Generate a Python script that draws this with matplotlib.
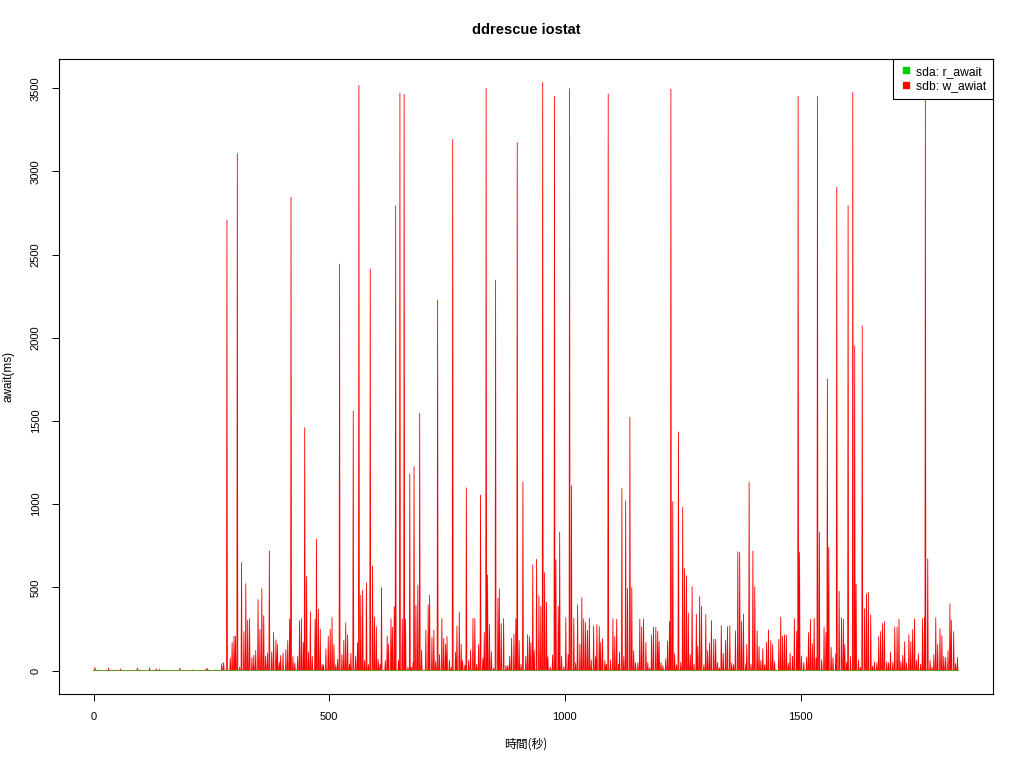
import numpy as np
import matplotlib.pyplot as plt
from matplotlib.lines import Line2D

# run length in seconds
n_seconds = 1836

# sdb: w_await spikes (second, ms); everything else sits at 0
sdb_time = [
    3, 32, 57, 93, 119, 133, 140, 183, 239, 242,
    272, 276, 283, 290, 294, 298, 301, 305, 310, 314, 319, 323, 327, 331, 336, 340, 344, 349, 353, 357,
    361, 365, 369, 373, 378, 382, 387, 390, 394, 397, 402, 408, 412, 416, 419,
    423, 427, 433, 437, 441, 445, 448, 452, 456, 460, 464, 470, 473, 477, 481, 485, 488, 493, 498, 502,
    506, 510, 514, 518, 522, 527, 531, 535, 539, 543, 546, 551, 556, 560, 563, 567, 571, 575, 579, 583,
    587, 592, 596, 600, 604, 608, 611, 619, 623, 626, 631, 634, 638, 641, 647, 650, 655, 659, 662, 667,
    671, 674, 678, 680, 684, 688, 692, 696, 705, 710, 713, 718, 722, 726, 730, 734, 739, 743, 747, 750,
    755, 759, 762, 768, 771, 776, 780, 783, 788, 791, 796, 800, 805, 809, 813, 817, 821, 826, 829, 833,
    836, 840, 844, 849, 853, 858, 861, 865, 870, 875, 879, 883, 887, 892, 896, 899, 903,
    907, 911, 917, 921, 925, 928, 932, 935, 940, 945, 949, 953, 957, 961, 964, 969, 974, 978, 981, 986,
    989, 993, 998, 1002, 1007, 1010, 1014, 1019, 1023, 1027, 1032, 1036, 1040, 1044, 1048, 1052, 1056, 1061, 1065, 1068,
    1073, 1076, 1080, 1085, 1088, 1092, 1097, 1102, 1106, 1110, 1114, 1116, 1121, 1125, 1129, 1133, 1138, 1142, 1146, 1150,
    1155, 1159, 1163, 1167, 1172, 1176, 1180, 1184, 1188, 1193, 1197, 1200, 1204, 1208, 1214, 1218, 1222, 1225, 1229, 1233,
    1237, 1241, 1246, 1250, 1254, 1258, 1262, 1266, 1270, 1274, 1279, 1282, 1286, 1290, 1295, 1299, 1303, 1307, 1311, 1316,
    1320, 1324, 1328, 1332, 1336, 1341, 1345, 1350, 1354, 1358, 1362, 1367, 1371,
    1375, 1379, 1384, 1386, 1391, 1395, 1399, 1403, 1408, 1412, 1416, 1420, 1424, 1428, 1432, 1437, 1441, 1445, 1454, 1458,
    1462, 1466, 1470, 1474, 1478, 1483, 1487, 1492, 1495, 1498, 1502, 1507, 1513, 1517, 1521, 1525, 1529, 1533, 1536, 1540,
    1545, 1550, 1554, 1557, 1560, 1565, 1569, 1575, 1577, 1582, 1587, 1591, 1594, 1598, 1601, 1606, 1611, 1615, 1618, 1623,
    1627, 1631, 1636, 1640, 1644, 1649, 1653, 1657, 1662, 1666, 1670, 1674, 1678, 1683, 1687, 1691, 1696, 1700, 1705, 1709,
    1713, 1717, 1721, 1725, 1730, 1734, 1738, 1742, 1746, 1750, 1755, 1759, 1763, 1765, 1770, 1775, 1779, 1783, 1787, 1791,
    1796, 1800, 1804, 1808, 1813, 1817, 1820, 1825, 1829, 1833,
]
sdb_wait = [
    18, 14, 10, 14, 16, 10, 8, 14, 10, 12,
    42, 48, 2707, 76, 168, 206, 206, 3107, 20, 650, 234, 522, 302, 312, 78, 92, 120, 426, 248, 492,
    330, 86, 106, 720, 112, 230, 184, 156, 50, 90, 104, 124, 180, 310, 2845,
    84, 46, 84, 300, 312, 168, 1460, 564, 112, 354, 84, 308, 790, 368, 248, 36, 34, 130, 206, 248,
    318, 156, 34, 68, 2443, 96, 182, 286, 216, 38, 104, 1560, 86, 168, 3517, 452, 482, 60, 528, 36,
    2413, 628, 320, 264, 66, 38, 498, 60, 206, 158, 312, 260, 384, 2793, 62, 3471, 310, 3463, 310, 20,
    1182, 20, 50, 1226, 392, 512, 1546, 122, 242, 394, 452, 200, 242, 54, 2227, 96, 312, 192, 158, 204,
    62, 20, 3193, 110, 268, 350, 158, 60, 32, 1098, 60, 122, 312, 312, 36, 156, 1054, 74, 230, 3499,
    574, 276, 114, 16, 2347, 434, 492, 282, 312, 30, 30, 86, 194, 220, 312, 3173, 180,
    38, 1134, 86, 216, 204, 168, 636, 120, 668, 450, 386, 3535, 588, 410, 82, 20, 94, 3451, 666, 386,
    832, 86, 22, 318, 96, 3497, 1112, 314, 46, 394, 160, 438, 310, 288, 242, 314, 64, 268, 84, 276,
    264, 168, 192, 60, 38, 3465, 62, 312, 204, 308, 36, 112, 1094, 84, 1020, 494, 1522, 498, 120, 48,
    48, 308, 264, 310, 168, 48, 14, 214, 262, 260, 236, 174, 48, 30, 70, 176, 296, 3495, 1016, 102,
    34, 1434, 50, 980, 612, 570, 344, 96, 504, 38, 338, 146, 444, 386, 34, 336, 120, 166, 300, 188,
    188, 48, 16, 270, 104, 180, 264, 268, 44, 36, 238, 714, 710,
    296, 340, 40, 156, 1132, 38, 718, 504, 240, 144, 60, 130, 34, 170, 244, 180, 156, 54, 188, 320,
    206, 216, 212, 44, 104, 86, 312, 236, 3451, 710, 86, 48, 80, 228, 308, 162, 314, 76, 3451, 832,
    64, 260, 228, 1754, 740, 140, 78, 100, 2905, 476, 318, 308, 156, 48, 2795, 84, 3475, 1950, 520, 64,
    20, 2071, 372, 462, 470, 336, 26, 52, 48, 204, 234, 282, 294, 52, 48, 110, 50, 262, 262, 308,
    54, 92, 172, 46, 216, 174, 246, 312, 60, 102, 38, 312, 318, 3430, 672, 60, 20, 96, 318, 156,
    252, 210, 84, 78, 120, 402, 302, 234, 42, 78,
]

# sda: r_await stays flat near zero
sda_time = [5, 48, 97, 150, 210, 260]
sda_wait = [6, 4, 5, 3, 4, 5]

t = np.arange(n_seconds)
w_await = np.zeros(n_seconds)
w_await[sdb_time] = sdb_wait
r_await = np.zeros(n_seconds)
r_await[sda_time] = sda_wait

label_font = ['Liberation Sans', 'DejaVu Sans']

fig = plt.figure(figsize=(10.24, 7.68), dpi=100)
ax = fig.add_axes([0.0576, 0.0964, 0.9121, 0.8268])

ax.plot(t, w_await, color='red', lw=0.6)
ax.plot(t, r_await, color='#4CAF20', lw=0.6)

ax.set_xlim(-73.4, 1908.4)
ax.set_ylim(-141, 3676)
ax.set_xticks([0, 500, 1000, 1500])
ax.set_yticks(range(0, 3501, 500))
ax.tick_params(direction='out', length=5, width=0.7, pad=8)
for lab in ax.get_xticklabels() + ax.get_yticklabels():
    lab.set_family(label_font)
    lab.set_fontsize(8)
for lab in ax.get_yticklabels():
    lab.set_rotation(90)
    lab.set_va('center')
for s in ax.spines.values():
    s.set_linewidth(0.8)

fig.text(526 / 1024, 1 - 30 / 768, 'ddrescue iostat', ha='center', va='center',
         fontsize=10.5, fontweight='bold', family=label_font)
fig.text(526 / 1024, 1 - 744 / 768, '時間(秒)', ha='center', va='center',
         fontsize=8.5, family=['Noto Sans CJK JP', 'DejaVu Sans'])
fig.text(9 / 1024, 1 - 376 / 768, 'await(ms)', ha='center', va='center', rotation=90,
         fontsize=8.5, family=label_font)

handles = [
    Line2D([], [], marker='s', ls='none', color='#00CD00', ms=4),
    Line2D([], [], marker='s', ls='none', color='red', ms=4),
]
leg = ax.legend(handles, ['sda: r_await', 'sdb: w_awiat'], loc='upper right',
                borderaxespad=0, fancybox=False, edgecolor='black', framealpha=1,
                handlelength=1.0, handletextpad=0.35, borderpad=0.55, labelspacing=0.2,
                prop={'family': label_font, 'size': 8.7})
leg.get_frame().set_linewidth(0.8)

fig.savefig('out.png', dpi=100)
